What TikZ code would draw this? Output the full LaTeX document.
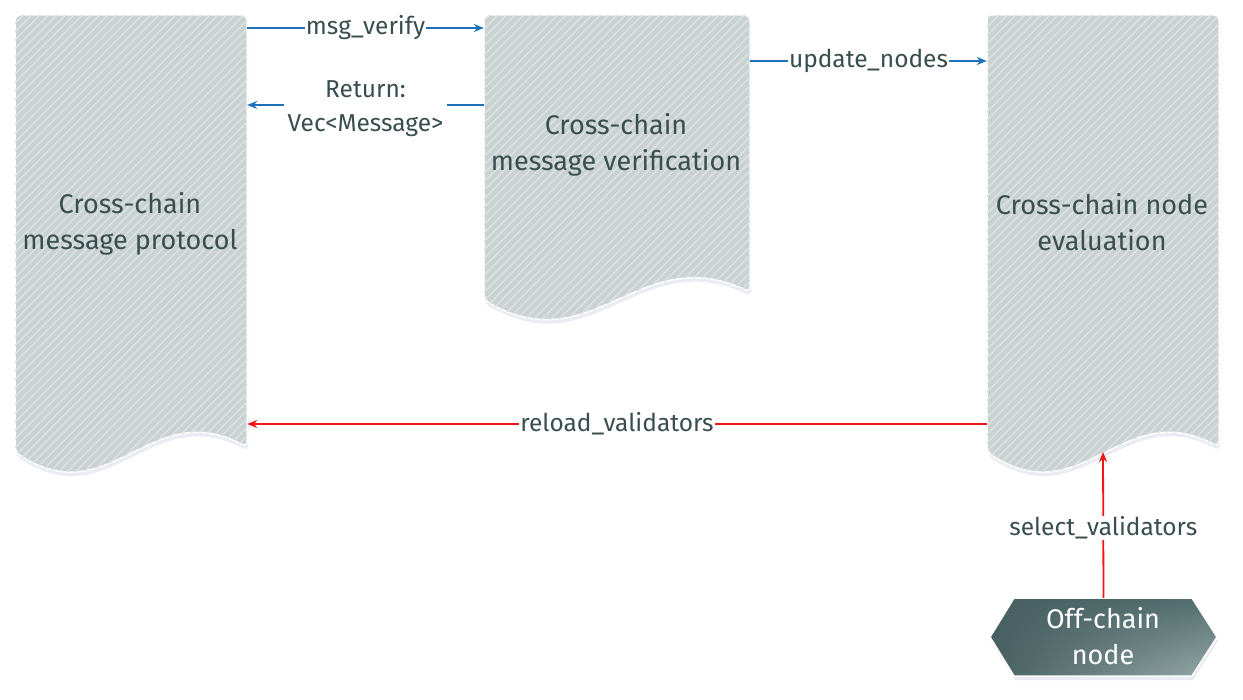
\documentclass[tikz,border=0pt]{standalone}
\usepackage{fontspec}
\setmainfont{Fira Sans}
\usetikzlibrary{arrows.meta,patterns.meta,shadows,shadings}
\definecolor{docfill}{HTML}{C9D1D1}
\definecolor{hatchc}{HTML}{DCE2E2}
\definecolor{txt}{HTML}{384E4F}
\definecolor{flowblue}{HTML}{1F72BA}
\definecolor{flowred}{HTML}{F21515}
\definecolor{hexA}{HTML}{475F60}
\definecolor{hexB}{HTML}{526E6E}
\definecolor{hexC}{HTML}{98AAAA}
\begin{document}
\begin{tikzpicture}[x=1pt,y=-1pt,
  docshape/.style={draw=white, line width=1.5pt, fill=docfill, rounded corners=5pt,
    drop shadow={shadow xshift=1pt, shadow yshift=-4pt, opacity=0.12, fill=blue!30!gray}},
  dochatch/.style={pattern={Lines[angle=45,distance=6pt,line width=1.6pt]}, pattern color=hatchc, rounded corners=5pt},
  docbox/.style={inner sep=0pt},
  doctext/.style={text=txt, font=\fontsize{27}{36}\selectfont, align=center},
  lbl/.style={text=txt, font=\fontsize{24.5}{34}\selectfont, fill=white, inner sep=1pt, align=center},
  bluearrow/.style={draw=flowblue, line width=1.5pt, -{Stealth[length=10pt,width=8pt]}},
  redarrow/.style={draw=flowred, line width=1.8pt, -{Stealth[length=10pt,width=8pt]}}
]
\useasboundingbox (0,0) rectangle (1243,700);

% document shapes
\path[docshape] (15,452) -- (15,15) -- (247,15) -- (247,447) .. controls (150,395) and (110,515) .. (15,452) -- cycle;
\path[dochatch] (15,452) -- (15,15) -- (247,15) -- (247,447) .. controls (150,395) and (110,515) .. (15,452) -- cycle;

\path[docshape] (484,300) -- (484,15) -- (750,15) -- (750,292) .. controls (639,240) and (593,363) .. (484,300) -- cycle;
\path[dochatch] (484,300) -- (484,15) -- (750,15) -- (750,292) .. controls (639,240) and (593,363) .. (484,300) -- cycle;

\path[docshape] (987,452) -- (987,15) -- (1219,15) -- (1219,447) .. controls (1122,395) and (1082,515) .. (987,452) -- cycle;
\path[dochatch] (987,452) -- (987,15) -- (1219,15) -- (1219,447) .. controls (1122,395) and (1082,515) .. (987,452) -- cycle;

% hexagon
\path[draw=white, line width=1.5pt, shade, upper left=hexA, upper right=hexB, lower left=hexA, lower right=hexC,
  drop shadow={shadow xshift=1pt, shadow yshift=-4pt, opacity=0.12, fill=blue!30!gray}]
  (990,637) -- (1014,598) -- (1192,598) -- (1217,637) -- (1192,676) -- (1014,676) -- cycle;

% named boxes
\node[docbox, minimum width=232pt, minimum height=430pt] (proto) at (131,230) {};
\node[docbox, minimum width=266pt, minimum height=277pt] (verif) at (617,153.5) {};
\node[docbox, minimum width=232pt, minimum height=430pt] (eval) at (1103,230) {};
\node[inner sep=0pt, minimum width=227pt, minimum height=78pt] (off) at (1103.5,637) {};
\coordinate (evalbottom) at (1103,452);

% texts
\node[doctext] (t1) at (130,224) {Cross-chain\\message protocol};
\node[doctext] (t2) at (616,145) {Cross-chain\\message verification};
\node[doctext] (t3) at (1102,222) {Cross-chain node\\evaluation};
\node[doctext, text=white] (t4) at (1103,636) {Off-chain\\node};

% connectors
\draw[bluearrow] (proto.east |- 0,28) -- node[lbl]{msg\_verify} (verif.west |- 0,28);
\draw[bluearrow] (verif.west |- 0,105) -- node[lbl, inner xsep=4pt, yshift=-4pt]{Return:\\Vec<Message>} (proto.east |- 0,105);
\draw[bluearrow] (verif.east |- 0,61) -- node[lbl]{update\_nodes} (eval.west |- 0,61);
\draw[redarrow] (eval.west |- 0,424) -- node[lbl]{reload\_validators} (proto.east |- 0,424);
\draw[redarrow] (off.north) -- node[lbl, pos=0.48]{select\_validators} (evalbottom);
\end{tikzpicture}
\end{document}
